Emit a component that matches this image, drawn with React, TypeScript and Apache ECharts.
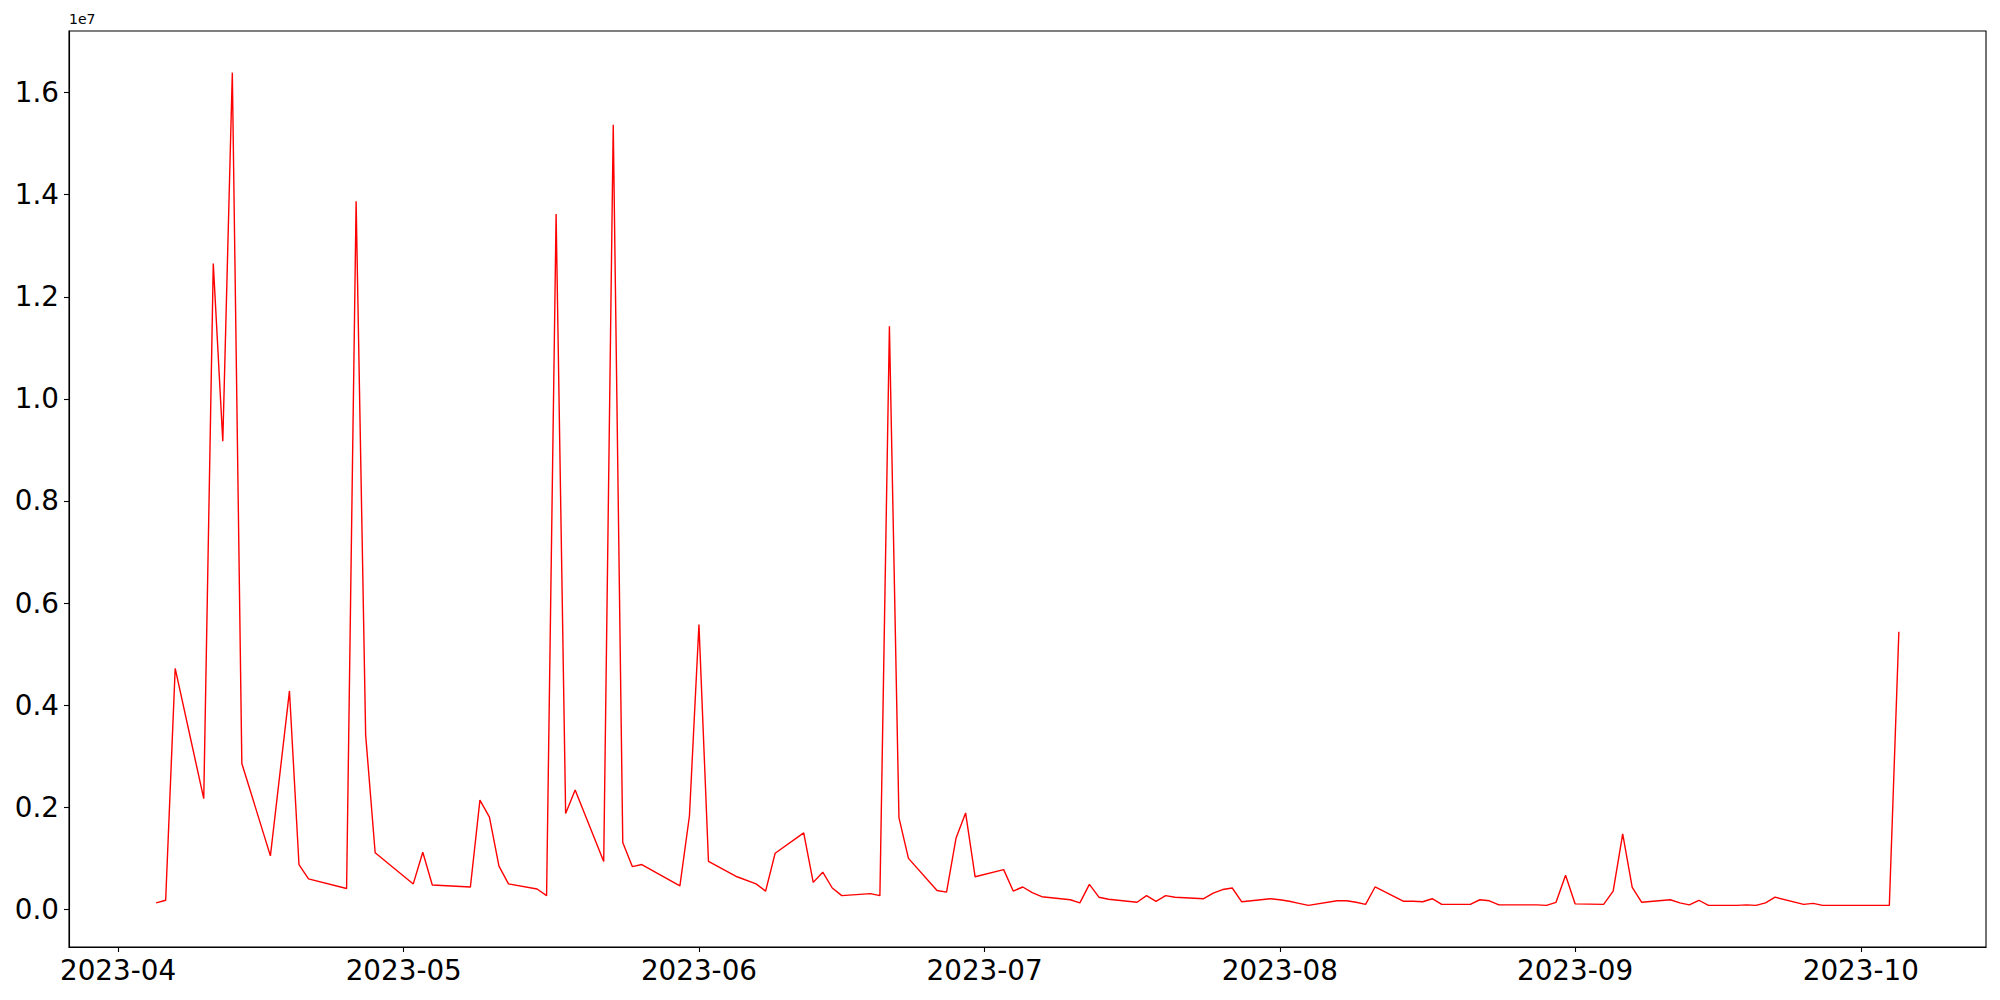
import React, { useEffect, useRef } from "react";
import * as echarts from "echarts";

const dates: string[] = [
  "2023-04-05", "2023-04-06", "2023-04-07", "2023-04-10", "2023-04-11", "2023-04-12", "2023-04-13", "2023-04-14",
  "2023-04-17", "2023-04-19", "2023-04-20", "2023-04-21", "2023-04-25", "2023-04-26", "2023-04-27", "2023-04-28",
  "2023-05-02", "2023-05-03", "2023-05-04", "2023-05-08", "2023-05-09", "2023-05-10", "2023-05-11", "2023-05-12",
  "2023-05-15", "2023-05-16", "2023-05-17", "2023-05-18", "2023-05-19", "2023-05-22", "2023-05-23", "2023-05-24",
  "2023-05-25", "2023-05-26", "2023-05-30", "2023-05-31", "2023-06-01", "2023-06-02", "2023-06-05", "2023-06-07",
  "2023-06-08", "2023-06-09", "2023-06-12", "2023-06-13", "2023-06-14", "2023-06-15", "2023-06-16", "2023-06-19",
  "2023-06-20", "2023-06-21", "2023-06-22", "2023-06-23", "2023-06-26", "2023-06-27", "2023-06-28", "2023-06-29",
  "2023-06-30", "2023-07-03", "2023-07-04", "2023-07-05", "2023-07-06", "2023-07-07", "2023-07-10", "2023-07-11",
  "2023-07-12", "2023-07-13", "2023-07-14", "2023-07-17", "2023-07-18", "2023-07-19", "2023-07-20", "2023-07-21",
  "2023-07-24", "2023-07-25", "2023-07-26", "2023-07-27", "2023-07-28", "2023-07-31", "2023-08-01", "2023-08-02",
  "2023-08-03", "2023-08-04", "2023-08-07", "2023-08-08", "2023-08-09", "2023-08-10", "2023-08-11", "2023-08-14",
  "2023-08-15", "2023-08-16", "2023-08-17", "2023-08-18", "2023-08-21", "2023-08-22", "2023-08-23", "2023-08-24",
  "2023-08-25", "2023-08-28", "2023-08-29", "2023-08-30", "2023-08-31", "2023-09-01", "2023-09-04", "2023-09-05",
  "2023-09-06", "2023-09-07", "2023-09-08", "2023-09-11", "2023-09-12", "2023-09-13", "2023-09-14", "2023-09-15",
  "2023-09-18", "2023-09-19", "2023-09-20", "2023-09-21", "2023-09-22", "2023-09-25", "2023-09-26", "2023-09-27",
  "2023-09-28", "2023-09-29", "2023-10-02", "2023-10-03", "2023-10-04", "2023-10-05",
];

const values: number[] = [
  130000, 180000, 4720000, 2170000, 12650000, 9170000, 16390000, 2860000,
  1050000, 4280000, 880000, 600000, 410000, 13870000, 3420000, 1110000,
  500000, 1120000, 480000, 440000, 2140000, 1810000, 850000, 500000,
  400000, 270000, 13620000, 1880000, 2340000, 940000, 15370000, 1310000,
  840000, 880000, 460000, 1830000, 5580000, 940000, 640000, 500000,
  360000, 1100000, 1500000, 530000, 730000, 420000, 270000, 310000,
  270000, 11420000, 1800000, 1000000, 370000, 340000, 1400000, 1890000,
  640000, 780000, 360000, 440000, 330000, 250000, 190000, 130000,
  490000, 240000, 200000, 140000, 270000, 160000, 270000, 240000,
  210000, 320000, 390000, 420000, 150000, 210000, 190000, 160000,
  120000, 80000, 170000, 170000, 140000, 100000, 440000, 160000,
  160000, 150000, 210000, 100000, 100000, 190000, 170000, 90000,
  90000, 90000, 80000, 140000, 670000, 110000, 100000, 360000,
  1480000, 430000, 140000, 190000, 130000, 90000, 180000, 80000,
  80000, 90000, 80000, 130000, 240000, 100000, 120000, 80000,
  80000, 80000, 80000, 80000, 80000, 5440000,
];

const xTickDates: string[] = ["2023-04-01", "2023-05-01", "2023-06-01", "2023-07-01", "2023-08-01", "2023-09-01", "2023-10-01"];
const yTicks: number[] = [0, 2000000, 4000000, 6000000, 8000000, 10000000, 12000000, 14000000, 16000000];

const DAY = 86400000;

export default function App() {
  const ref = useRef<HTMLDivElement>(null);
  useEffect(() => {
    if (!ref.current) return;
    const chart = echarts.init(ref.current, null, { renderer: "svg" });
    const ts = dates.map((d) => Date.parse(d));
    const first = ts[0];
    const last = ts[ts.length - 1];
    const xPad = (last - first) * 0.05;
    const vMin = Math.min(...values);
    const vMax = Math.max(...values);
    const yPad = (vMax - vMin) * 0.05;
    const font = "DejaVu Sans";
    chart.setOption({
      animation: false,
      backgroundColor: "#ffffff",
      textStyle: { fontFamily: font },
      grid: {
        left: 69,
        right: 14,
        top: 31,
        bottom: 53,
        show: true,
        borderColor: "#000000",
        borderWidth: 1.1,
        backgroundColor: "transparent",
        containLabel: false,
      },
      graphic: [
        {
          type: "text",
          left: 69,
          top: 12,
          style: { text: "1e7", fontSize: 14, fontFamily: font, fill: "#000000" },
        },
      ],
      xAxis: {
        type: "value",
        min: first - xPad,
        max: last + xPad,
        splitLine: { show: false },
        axisLine: { show: true, onZero: false, lineStyle: { color: "#000000", width: 1.1 } },
        axisTick: {
          show: true,
          length: 5,
          lineStyle: { color: "#000000", width: 1.1 },
          customValues: xTickDates.map((d) => Date.parse(d)),
        },
        axisLabel: {
          show: true,
          margin: 9,
          fontSize: 27.8,
          fontFamily: font,
          color: "#000000",
          customValues: xTickDates.map((d) => Date.parse(d)),
          formatter: (v: number) => new Date(Math.round(v / DAY) * DAY).toISOString().slice(0, 7),
        },
      },
      yAxis: {
        type: "value",
        min: vMin - yPad,
        max: vMax + yPad,
        splitLine: { show: false },
        axisLine: { show: true, onZero: false, lineStyle: { color: "#000000", width: 1.1 } },
        axisTick: {
          show: true,
          length: 5,
          lineStyle: { color: "#000000", width: 1.1 },
          customValues: yTicks,
        },
        axisLabel: {
          show: true,
          margin: 10,
          fontSize: 27.8,
          fontFamily: font,
          color: "#000000",
          customValues: yTicks,
          formatter: (v: number) => (v / 1e7).toFixed(1),
        },
      },
      series: [
        {
          type: "line",
          data: ts.map((t, i) => [t, values[i]]),
          showSymbol: false,
          symbol: "none",
          lineStyle: { color: "#ff0000", width: 1.4 },
          itemStyle: { color: "#ff0000" },
        },
      ],
    });
    return () => chart.dispose();
  }, []);
  return (
    <div
      ref={ref}
      style={{ position: "fixed", left: 0, top: 0, width: 2000, height: 1000, background: "#ffffff" }}
    />
  );
}
